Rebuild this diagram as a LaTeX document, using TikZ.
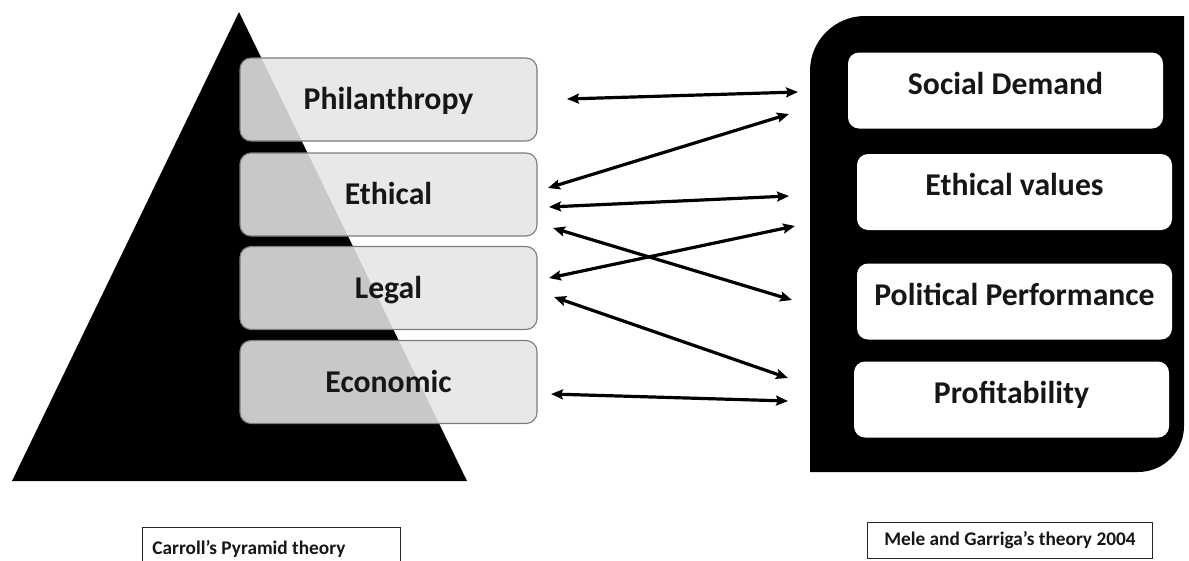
\documentclass[tikz,border=0pt]{standalone}
\usepackage{fontspec}
\setmainfont{Carlito}
\usetikzlibrary{arrows.meta}

\definecolor{layerfill}{RGB}{229,229,231}
\definecolor{layerline}{RGB}{124,124,126}
\definecolor{inktext}{RGB}{22,22,22}

\tikzset{
  layer/.style={draw=layerline, line width=1.1pt, fill=layerfill, fill opacity=0.875,
    text opacity=1, rounded corners=11pt, minimum width=297pt, minimum height=83pt,
    inner sep=0pt, text=inktext, font=\fontsize{31.7}{36}\selectfont\bfseries,
    text height=20.4pt, text depth=0pt},
  factor/.style={fill=white, rounded corners=11pt, minimum width=315pt, minimum height=76pt,
    inner sep=0pt, text=inktext, font=\fontsize{31.7}{36}\selectfont\bfseries,
    text height=20.4pt, text depth=13pt},
  caption/.style={draw=black!85, line width=0.9pt, fill=white, inner ysep=0pt, anchor=north west,
    text=inktext, font=\fontsize{19.3}{22}\selectfont\bfseries},
  link/.style={line width=3.2pt, {Stealth[length=12pt,width=10pt,inset=2pt]}-{Stealth[length=12pt,width=10pt,inset=2pt]}}
}

\begin{document}
\begin{tikzpicture}[x=1pt, y=-1pt]
  \useasboundingbox (0,0) rectangle (1189,560);
  \clip (0,0) rectangle (1189,560);

  % Carroll's pyramid
  \fill[black] (239,12) -- (467,481) -- (12,481) -- cycle;
  \node[layer] (phil) at (388.5,99.5)  {Philanthropy};
  \node[layer] (eth)  at (388.5,194.5) {Ethical};
  \node[layer] (leg)  at (388.5,288)   {Legal};
  \node[layer] (eco)  at (388.5,382)   {Economic};

  % Mele and Garriga's frame
  \fill[black] (810,472) -- (810,71) arc[start angle=180, end angle=270, radius=55]
    -- (1184,16) -- (1184,426) arc[start angle=0, end angle=90, radius=46] -- cycle;
  \node[factor] (soc)  at (1005.5,90.5) {Social Demand};
  \node[factor] (ethv) at (1014.5,192)  {Ethical values};
  \node[factor] (pol)  at (1014.5,301.5) {Political Performance};
  \node[factor] (prof) at (1011.5,399.5) {Profitability};

  % arrow end points
  \coordinate (a1l) at (567,99);  \coordinate (a1r) at (798,92);
  \coordinate (a2l) at (548,188); \coordinate (a2r) at (789,114);
  \coordinate (a3l) at (549,207); \coordinate (a3r) at (789,196);
  \coordinate (a4l) at (553,228); \coordinate (a4r) at (792,300);
  \coordinate (a5l) at (549,278); \coordinate (a5r) at (795,226);
  \coordinate (a6l) at (554,297); \coordinate (a6r) at (788,378);
  \coordinate (a7l) at (551,394); \coordinate (a7r) at (788,401);

  \draw[link] (a1l) -- (a1r);
  \draw[link] (a2l) -- (a2r);
  \draw[link] (a3l) -- (a3r);
  \draw[link] (a4l) -- (a4r);
  \draw[link] (a5l) -- (a5r);
  \draw[link] (a6l) -- (a6r);
  \draw[link] (a7l) -- (a7r);

  % captions (the left one runs past the lower edge)
  \node[caption, inner xsep=3pt, minimum width=258pt, minimum height=50pt,
        text height=27pt, text depth=23pt]
        (carroll) at (142,527) {\makebox[252pt][l]{\hspace*{7pt}Carroll’s Pyramid theory}};
  \node[caption, minimum width=285pt, minimum height=36pt] (mele) at (867,522) {Mele and Garriga’s theory 2004};
\end{tikzpicture}
\end{document}
